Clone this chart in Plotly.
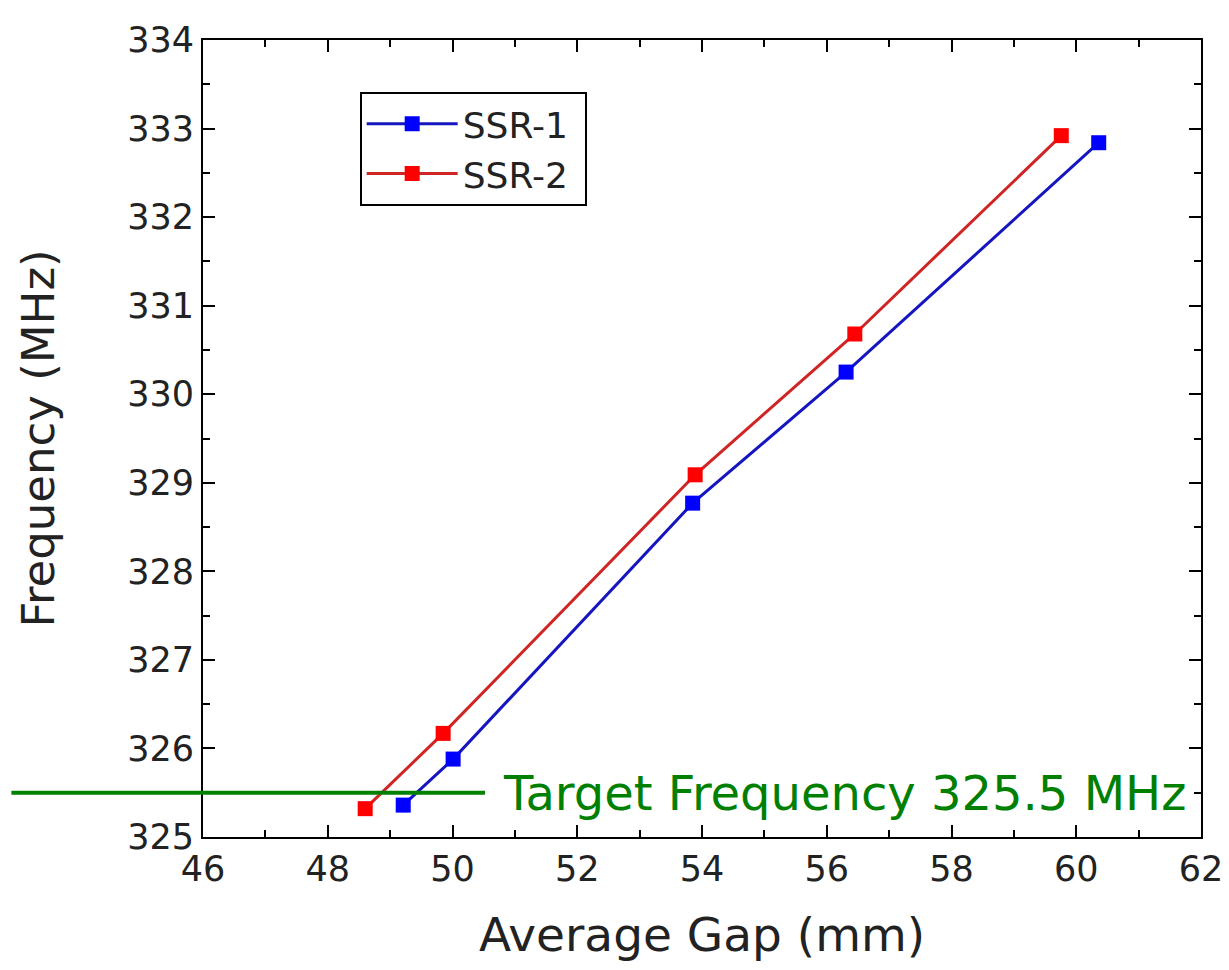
import plotly.graph_objects as go

ssr1_gap = [49.21, 50.01, 53.85, 56.31, 60.36]
ssr1_freq = [325.36, 325.88, 328.77, 330.25, 332.84]
ssr2_gap = [48.60, 49.85, 53.89, 56.45, 59.76]
ssr2_freq = [325.32, 326.17, 329.09, 330.68, 332.92]
target_freq = 325.5
target_label = "Target Frequency 325.5 MHz"

FONT = "DejaVu Sans"

fig = go.Figure()
fig.add_trace(go.Scatter(
    x=ssr1_gap, y=ssr1_freq, mode="lines+markers", name="SSR-1\u00a0",
    line=dict(color="#1616c0", width=3),
    marker=dict(symbol="square", size=15, color="#0000ff"),
))
fig.add_trace(go.Scatter(
    x=ssr2_gap, y=ssr2_freq, mode="lines+markers", name="SSR-2\u00a0",
    line=dict(color="#d02525", width=3),
    marker=dict(symbol="square", size=15, color="#ff0000"),
))

ymin, ymax = 325, 334
ypaper = (target_freq - ymin) / (ymax - ymin)
fig.add_shape(type="line", xref="paper", yref="paper",
              x0=-0.192, x1=0.2826, y0=ypaper, y1=ypaper,
              line=dict(color="#008000", width=4))
fig.add_annotation(text=target_label, xref="paper", yref="paper",
                   x=0.299, y=ypaper, xanchor="left", yanchor="middle",
                   showarrow=False,
                   font=dict(family=FONT, size=48, color="#008000"))

axis_common = dict(
    showline=True, linecolor="black", linewidth=2, mirror="ticks",
    ticks="inside", ticklen=12, tickwidth=2, tickcolor="black",
    showgrid=False, zeroline=False,
    tickfont=dict(family=FONT, size=35, color="#222"),
)
fig.update_xaxes(range=[46, 62], tickvals=list(range(46, 63, 2)),
                 minor=dict(dtick=1, ticks="inside", ticklen=7, tickwidth=2, tickcolor="black"),
                 title=dict(text="Average Gap (mm)", font=dict(family=FONT, size=47, color="#222"), standoff=30),
                 **axis_common)
fig.update_yaxes(range=[ymin, ymax], dtick=1,
                 minor=dict(dtick=0.5, ticks="inside", ticklen=7, tickwidth=2, tickcolor="black"),
                 title=dict(text="Frequency (MHz)", font=dict(family=FONT, size=45, color="#222"), standoff=58),
                 **axis_common)

fig.update_layout(
    width=1229, height=970,
    margin=dict(l=195, r=36, t=23, b=141),
    plot_bgcolor="white", paper_bgcolor="white",
    showlegend=True,
    legend=dict(x=0.157, y=0.935, xanchor="left", yanchor="top",
                bordercolor="black", borderwidth=2, bgcolor="white",
                font=dict(family=FONT, size=36, color="#222"),
                itemwidth=91, tracegroupgap=0),
)

fig.write_html("out.html")
